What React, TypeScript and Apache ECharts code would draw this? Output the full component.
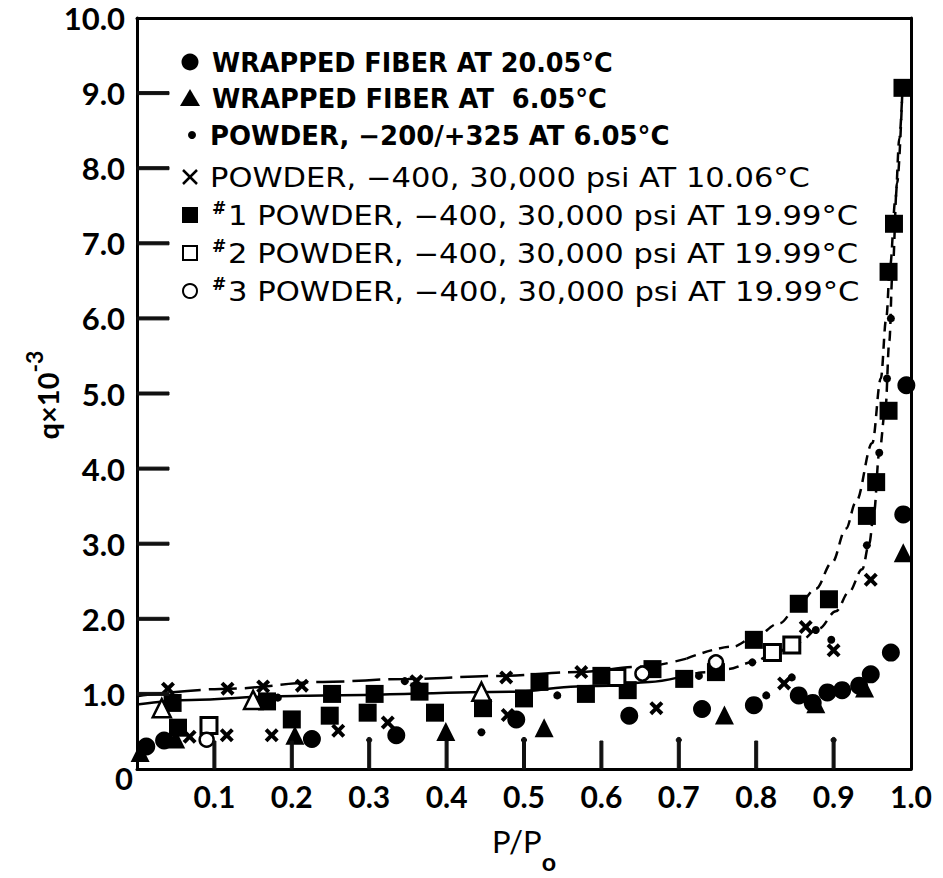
import React, { useEffect, useRef } from "react";
import * as echarts from "echarts";

// Adsorption isotherm data: [P/Po, q x 10^-3]
const fiber2005 = [
  [0.012, 0.3], [0.035, 0.38], [0.226, 0.4], [0.335, 0.45], [0.49, 0.66],
  [0.636, 0.71], [0.73, 0.8], [0.797, 0.85], [0.855, 0.98], [0.873, 0.88],
  [0.892, 1.02], [0.911, 1.05], [0.933, 1.11], [0.948, 1.26], [0.974, 1.55],
  [0.99, 3.39], [0.994, 5.11],
];
const fiber605 = [
  [0.004, 0.22], [0.05, 0.4], [0.204, 0.45], [0.399, 0.5], [0.526, 0.55],
  [0.759, 0.72], [0.877, 0.87], [0.94, 1.08], [0.99, 2.88],
];
const powder200 = [
  [0.182, 0.95], [0.346, 1.17], [0.445, 0.49], [0.543, 0.98], [0.726, 1.24],
  [0.795, 1.42], [0.813, 0.98], [0.846, 1.22], [0.877, 1.85], [0.897, 1.72],
  [0.943, 2.98], [0.959, 4.21], [0.969, 5.2], [0.974, 6.0],
];
const powder400At1006 = [
  [0.04, 1.07], [0.068, 0.43], [0.116, 0.45], [0.117, 1.07], [0.163, 1.1],
  [0.174, 0.45], [0.213, 1.11], [0.26, 0.51], [0.324, 0.62], [0.361, 1.17],
  [0.477, 1.22], [0.479, 0.72], [0.574, 1.29], [0.671, 0.81], [0.836, 1.14],
  [0.864, 1.89], [0.9, 1.58], [0.948, 2.52],
];
const powder1 = [
  [0.046, 0.88], [0.053, 0.55], [0.168, 0.9], [0.2, 0.66], [0.249, 0.71],
  [0.252, 1.0], [0.298, 0.75], [0.307, 1.0], [0.365, 1.03], [0.385, 0.75],
  [0.447, 0.81], [0.5, 0.94], [0.52, 1.16], [0.58, 1.0], [0.6, 1.24],
  [0.634, 1.05], [0.666, 1.33], [0.707, 1.2], [0.748, 1.29], [0.797, 1.72],
  [0.855, 2.2], [0.894, 2.26], [0.943, 3.37], [0.955, 3.82], [0.971, 4.77],
  [0.971, 6.62], [0.978, 7.26], [0.989, 9.07],
];
const powder2 = [[0.093, 0.58], [0.62, 1.22], [0.821, 1.55], [0.846, 1.65]];
const powder3 = [[0.09, 0.39], [0.653, 1.27], [0.748, 1.42]];
const openTriangles = [[0.032, 0.81], [0.15, 0.92], [0.445, 1.03]];

// Faired curves
const upperFlat = [
  [0, 0.97], [0.12, 1.07], [0.24, 1.16], [0.35, 1.2], [0.47, 1.24],
  [0.57, 1.29], [0.65, 1.36], [0.71, 1.47],
];
const upperRise = [
  [0.71, 1.47], [0.77, 1.63], [0.797, 1.75], [0.83, 1.94], [0.855, 2.19],
  [0.877, 2.4], [0.898, 2.75], [0.916, 3.2], [0.929, 3.56], [0.95, 4.34],
  [0.961, 5.2], [0.968, 6.0], [0.973, 6.7], [0.98, 7.6], [0.985, 8.4],
  [0.989, 9.07],
];
const lowerFlat = [
  [0, 0.86], [0.07, 0.92], [0.185, 0.97], [0.24, 0.98], [0.49, 1.03],
  [0.568, 1.1], [0.61, 1.11], [0.662, 1.16], [0.7, 1.22],
];
const lowerRise = [
  [0.7, 1.22], [0.735, 1.29], [0.763, 1.33], [0.795, 1.42], [0.825, 1.55],
  [0.855, 1.69], [0.881, 1.87], [0.903, 2.1], [0.92, 2.36], [0.937, 2.66],
  [0.946, 3.0], [0.952, 3.4], [0.959, 4.21], [0.967, 4.8], [0.972, 5.7],
  [0.976, 6.6], [0.982, 7.8], [0.989, 9.07],
];

const xTickValues = [0.1, 0.2, 0.3, 0.4, 0.5, 0.6, 0.7, 0.8, 0.9];
const yTickValues = [1, 2, 3, 4, 5, 6, 7, 8, 9];
const dottedTicks = [0.3, 0.5, 0.7, 0.9];
const xTickLabels = ["", "0.1", "0.2", "0.3", "0.4", "0.5", "0.6", "0.7", "0.8", "0.9", "1.0"];
const yTickLabels = ["0", "1.0", "2.0", "3.0", "4.0", "5.0", "6.0", "7.0", "8.0", "9.0", "10.0"];

const legendLabels = [
  "WRAPPED FIBER AT 20.05°C",
  "WRAPPED FIBER AT  6.05°C",
  "POWDER, −200/+325 AT 6.05°C",
  "POWDER, −400, 30,000 psi AT 10.06°C",
  "1 POWDER, −400, 30,000 psi AT 19.99°C",
  "2 POWDER, −400, 30,000 psi AT 19.99°C",
  "3 POWDER, −400, 30,000 psi AT 19.99°C",
];

const FONT = "Lato";
const LEGEND_FONT = '"DejaVu Sans"';
const CROSS = "path://M2,0 L5,3 L8,0 L10,2 L7,5 L10,8 L8,10 L5,7 L2,10 L0,8 L3,5 L0,2 Z";
const X_TICK_LEN = 28;
const Y_TICK_LEN = 32;
const TICK_W = 3;
const TICK_COLOR = "#111111";

function measure(text: string, font: string) {
  const ctx = document.createElement("canvas").getContext("2d");
  if (!ctx) return 0;
  ctx.font = font;
  return ctx.measureText(text).width;
}

function legendGraphic() {
  const x0 = 190;
  const rowY = [62, 98, 135, 177, 215, 253, 291];
  // text block: left edge, right edge, weight
  const rows = [
    { l: 212, r: 613, w: "bold" },
    { l: 212, r: 607, w: "bold" },
    { l: 210, r: 670, w: "bold" },
    { l: 210, r: 810, w: "normal" },
    { l: 228, r: 858, w: "normal" },
    { l: 228, r: 858, w: "normal" },
    { l: 228, r: 860, w: "normal" },
  ];
  const blk = { fill: "#000" };
  const els: any[] = [];
  els.push({ type: "circle", shape: { cx: x0, cy: rowY[0], r: 8.5 }, style: blk });
  els.push({
    type: "polygon",
    shape: { points: [[x0 - 10, rowY[1] + 8], [x0 + 10, rowY[1] + 8], [x0, rowY[1] - 9]] },
    style: blk,
  });
  els.push({ type: "circle", shape: { cx: x0 + 2, cy: rowY[2], r: 4 }, style: blk });
  els.push({ type: "line", shape: { x1: x0 - 7, y1: rowY[3] - 7, x2: x0 + 7, y2: rowY[3] + 7 }, style: { stroke: "#000", lineWidth: 2.5 } });
  els.push({ type: "line", shape: { x1: x0 - 7, y1: rowY[3] + 7, x2: x0 + 7, y2: rowY[3] - 7 }, style: { stroke: "#000", lineWidth: 2.5 } });
  els.push({ type: "rect", shape: { x: x0 - 8, y: rowY[4] - 8, width: 16, height: 16 }, style: blk });
  els.push({ type: "rect", shape: { x: x0 - 7, y: rowY[5] - 7, width: 14, height: 14 }, style: { fill: "#fff", stroke: "#000", lineWidth: 2 } });
  els.push({ type: "circle", shape: { cx: x0, cy: rowY[6], r: 7 }, style: { fill: "#fff", stroke: "#000", lineWidth: 2 } });

  legendLabels.forEach((label, i) => {
    const row = rows[i];
    const font = `${row.w} 26px ${LEGEND_FONT}`;
    const w = measure(label, font);
    const sx = w > 0 ? (row.r - row.l) / w : 1;
    els.push({
      type: "text",
      x: row.l,
      y: rowY[i] + 1,
      scaleX: sx,
      style: { text: label, font, fill: "#000", align: "left", verticalAlign: "middle" },
    });
    if (i >= 4) {
      els.push({
        type: "text",
        x: 212,
        y: rowY[i] - 7,
        style: { text: "#", font: `bold 17px ${LEGEND_FONT}`, fill: "#000", align: "left", verticalAlign: "middle" },
      });
    }
  });
  return els;
}

export default function App() {
  const ref = useRef<HTMLDivElement>(null);

  useEffect(() => {
    if (!ref.current) return;
    const chart = echarts.init(ref.current, undefined, { renderer: "svg" });
    const black = { color: "#000" };

    const scatter = (name: string, data: number[][], symbol: string, size: number, itemStyle: any) => ({
      name,
      type: "scatter",
      data,
      symbol,
      symbolSize: size,
      itemStyle: { opacity: 1, ...itemStyle },
      z: 5,
    });

    const curve = (data: number[][], type: any) => ({
      type: "line",
      data,
      smooth: 0.35,
      smoothMonotone: "x",
      showSymbol: false,
      symbol: "none",
      lineStyle: { color: "#000", width: 2.5, type },
      z: 3,
    });

    const tickStyle = { fill: TICK_COLOR, stroke: TICK_COLOR, lineWidth: 1 };

    // inward tick marks at the axis positions
    const xTicks = {
      type: "custom",
      silent: true,
      clip: false,
      z: 6,
      data: xTickValues.map((v) => [v, 0]),
      renderItem: (_p: any, api: any) => {
        const pt = api.coord([api.value(0), 0]);
        return {
          type: "rect",
          shape: { x: pt[0] - TICK_W / 2, y: pt[1] - X_TICK_LEN, width: TICK_W, height: X_TICK_LEN },
          style: tickStyle,
        };
      },
    };
    const xTickDots = {
      type: "custom",
      silent: true,
      clip: false,
      z: 6,
      data: dottedTicks.map((v) => [v, 0]),
      renderItem: (_p: any, api: any) => {
        const pt = api.coord([api.value(0), 0]);
        return {
          type: "circle",
          shape: { cx: pt[0], cy: pt[1] - X_TICK_LEN - 1, r: 2.6 },
          style: tickStyle,
        };
      },
    };
    const yTicks = {
      type: "custom",
      silent: true,
      clip: false,
      z: 6,
      data: yTickValues.map((v) => [0, v]),
      renderItem: (_p: any, api: any) => {
        const pt = api.coord([0, api.value(1)]);
        return {
          type: "rect",
          shape: { x: pt[0], y: pt[1] - TICK_W / 2, width: Y_TICK_LEN, height: TICK_W },
          style: tickStyle,
        };
      },
    };

    const frameLine = { show: true, onZero: false, lineStyle: { color: "#000", width: 3 } };
    const frameAxis = {
      type: "value",
      axisLine: frameLine,
      axisTick: { show: false },
      axisLabel: { show: false },
      splitLine: { show: false },
    };

    chart.setOption({
      animation: false,
      backgroundColor: "#fff",
      grid: { left: 137, top: 18, width: 774, height: 775, show: false },
      xAxis: [
        {
          type: "value",
          position: "bottom",
          min: 0,
          max: 1,
          interval: 0.1,
          name: "{a|P/P}{b|o}",
          nameLocation: "middle",
          nameGap: 56,
          nameTextStyle: {
            rich: {
              a: { fontFamily: FONT, fontSize: 31, color: "#000", lineHeight: 32, verticalAlign: "top" },
              b: { fontFamily: FONT, fontWeight: "bold", fontSize: 25, color: "#000", lineHeight: 48, verticalAlign: "bottom" },
            },
          },
          axisLine: frameLine,
          axisTick: { show: false },
          splitLine: { show: false },
          axisLabel: {
            margin: 12,
            fontFamily: FONT,
            fontWeight: "bold",
            fontSize: 30,
            color: "#000",
            formatter: (v: number) => xTickLabels[Math.round(v * 10)] ?? "",
          },
        },
        { ...frameAxis, position: "top", min: 0, max: 1 },
      ],
      yAxis: [
        {
          type: "value",
          position: "left",
          min: 0,
          max: 10,
          interval: 1,
          axisLine: frameLine,
          axisTick: { show: false },
          splitLine: { show: false },
          axisLabel: {
            margin: 4,
            color: "#000",
            formatter: (v: number) => {
              const i = Math.round(v);
              return i === 0 ? `{z|${yTickLabels[0]}}` : `{n|${yTickLabels[i]}}`;
            },
            rich: {
              n: { fontFamily: FONT, fontWeight: "bold", fontSize: 31, color: "#000", padding: [0, 8, 0, 0] },
              z: { fontFamily: FONT, fontWeight: "bold", fontSize: 31, color: "#000", padding: [18, 0, 0, 0] },
            },
          },
        },
        { ...frameAxis, position: "right", min: 0, max: 10 },
      ],
      graphic: [
        {
          type: "text",
          x: 42,
          y: 395,
          rotation: Math.PI / 2,
          style: {
            text: "{q|q×10}{e|-3}",
            align: "center",
            verticalAlign: "middle",
            rich: {
              q: { fontFamily: FONT, fontWeight: "bold", fontSize: 29, color: "#000", lineHeight: 40, verticalAlign: "bottom" },
              e: { fontFamily: FONT, fontWeight: "bold", fontSize: 23, color: "#000", lineHeight: 40, verticalAlign: "top" },
            },
          },
        },
        ...legendGraphic(),
      ],
      series: [
        xTicks,
        xTickDots,
        yTicks,
        curve(upperFlat, [28, 8]),
        curve(upperRise, [10, 7]),
        curve(lowerFlat, "solid"),
        curve(lowerRise, [10, 7]),
        scatter(legendLabels[0], fiber2005, "circle", 18, black),
        scatter(legendLabels[1], fiber605, "triangle", 19, black),
        scatter(legendLabels[2], powder200, "circle", 8, black),
        scatter(legendLabels[3], powder400At1006, CROSS, 14, black),
        scatter(legendLabels[4], powder1, "rect", 18, black),
        scatter(legendLabels[5], powder2, "rect", 16, { color: "#fff", borderColor: "#000", borderWidth: 3 }),
        scatter(legendLabels[6], powder3, "circle", 14, { color: "#fff", borderColor: "#000", borderWidth: 2.5 }),
        scatter("open triangle", openTriangles, "triangle", 18, { color: "#fff", borderColor: "#000", borderWidth: 2.5 }),
      ],
    });

    return () => chart.dispose();
  }, []);

  return (
    <div
      ref={ref}
      style={{ position: "absolute", left: 0, top: 0, width: 943, height: 878, background: "#fff" }}
    />
  );
}
